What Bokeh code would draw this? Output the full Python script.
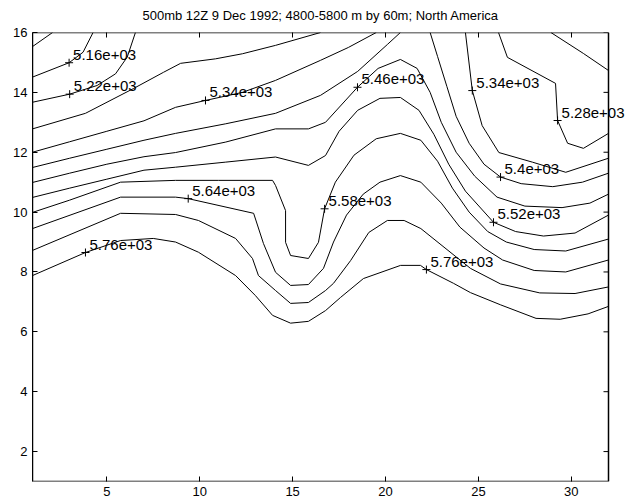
from bokeh.plotting import figure
from bokeh.models import (LinearAxis, FixedTicker, Range1d, ColumnDataSource,
                          CustomLabelingPolicy, LabelSet)
from bokeh.embed import file_html
from bokeh.resources import INLINE
from bokeh.core.properties import value

TITLE = "500mb 12Z 9 Dec 1992; 4800-5800 m by 60m; North America"
x_ticks = [5, 10, 15, 20, 25, 30]
y_ticks = [2, 4, 6, 8, 10, 12, 14, 16]
X_MIN, X_MAX = 1, 32
Y_MIN, Y_MAX = 1, 16

# traced contour lines (grid-column x, grid-row y), levels 5100..5760 m
c5100_x = [1, 2.08]
c5100_y = [15.53, 16.0]
c5160_x = [1, 2.97, 3.72, 4.26]
c5160_y = [14.51, 14.99, 15.34, 16.0]
c5220a_x = [1, 3.0, 4.48, 5.47, 6.1, 6.54]
c5220a_y = [13.67, 13.94, 14.23, 14.62, 15.18, 16.0]
c5220b_x = [28.9, 30.65, 32]
c5220b_y = [16.0, 15.3, 14.73]
c5280a_x = [1, 3.85, 6.44, 8.05, 8.97, 10.85, 12.3, 14.08, 16.5]
c5280a_y = [12.78, 13.3, 14.13, 14.67, 14.97, 15.12, 15.29, 15.57, 16.0]
c5280b_x = [26.08, 26.56, 29.15, 29.26, 29.8, 30.65, 32]
c5280b_y = [16.0, 15.17, 14.3, 13.06, 12.3, 12.13, 12.63]
c5340a_x = [1, 3, 5, 7, 8.7, 10.31, 12.3, 14.08, 16.5, 18.0, 19.5]
c5340a_y = [12.0, 12.35, 12.7, 13.05, 13.5, 13.73, 14.0, 14.4, 15.07, 15.5, 16.0]
c5340b_x = [24.3, 24.67, 25.2, 26.1, 27.9, 29.7, 32]
c5340b_y = [16.0, 14.06, 12.89, 11.99, 11.67, 11.33, 11.8]
c5400a_x = [1, 3, 5, 7, 8.7, 11.4, 14.08, 16.5, 18.5, 20.1, 20.8]
c5400a_y = [11.49, 11.8, 12.1, 12.4, 12.63, 12.95, 13.3, 13.9, 14.7, 15.6, 16.0]
c5400b_x = [22.4, 22.8, 23.3, 23.8, 24.5, 25.3, 26.19, 27.3, 29.0, 30.6, 32]
c5400b_y = [16.0, 15.2, 14.2, 13.2, 12.3, 11.6, 11.17, 10.95, 10.85, 11.0, 11.3]
c5460_x = [1, 3, 5, 7, 8.7, 11.4, 14.08, 15.85, 16.77, 18.49, 19.6, 20.8, 21.7, 22.4, 23.0,
           23.8, 24.8, 26.0, 27.5, 29.5, 31.0, 32]
c5460_y = [10.99, 11.3, 11.6, 11.85, 11.99, 12.34, 12.78, 12.78, 13.0, 14.17, 14.8, 15.1, 14.8,
           14.0, 13.0, 12.0, 11.2, 10.5, 10.2, 10.15, 10.3, 10.6]
c5520_x = [1, 3, 5, 7, 8.7, 11.4, 14.08, 15.85, 16.77, 17.5, 18.5, 19.7, 20.8, 21.8, 22.6,
           23.4, 24.3, 25.81, 27.0, 28.5, 30.2, 32]
c5520_y = [10.49, 10.8, 11.1, 11.4, 11.5, 11.67, 11.84, 11.56, 11.89, 12.7, 13.4, 13.8, 13.83,
           13.4, 12.6, 11.6, 10.7, 9.66, 9.35, 9.2, 9.3, 9.9]
c5580_x = [1, 3, 5.74, 8.7, 11, 13.92, 14.08, 14.62, 14.62, 14.89, 15.85, 16.39, 16.72, 17.3,
           18.3, 19.5, 20.8, 21.9, 22.8, 23.6, 24.5, 25.5, 26.5, 28.0, 29.7, 32]
c5580_y = [9.99, 10.4, 11.0, 11.06, 11.06, 11.06, 10.89, 10.05, 8.99, 8.55, 8.45, 8.99, 10.11,
           11.0, 11.9, 12.45, 12.63, 12.4, 11.7, 10.8, 10.0, 9.35, 9.0, 8.75, 8.7, 9.1]
c5640_x = [1, 5.74, 8.7, 9.38, 12.9, 13.43, 14.08, 14.89, 15.85, 16.66, 17.2, 17.9, 18.8,
           19.7, 20.8, 21.9, 23.0, 24.0, 25.3, 26.3, 28.0, 29.7, 32]
c5640_y = [9.45, 10.5, 10.5, 10.45, 9.96, 8.95, 7.99, 7.55, 7.58, 8.12, 9.0, 9.9, 10.6,
           11.0, 11.22, 11.0, 10.3, 9.5, 8.8, 8.4, 8.05, 8.0, 8.4]
c5700_x = [1, 5.74, 8.7, 9.93, 11.93, 12.84, 13.16, 14.08, 14.89, 15.85, 16.77, 17.2, 18.12,
           19.1, 20.1, 21.0, 21.9, 24.57, 26.19, 28.3, 30.2, 32]
c5700_y = [8.72, 9.96, 9.92, 9.72, 9.12, 8.45, 7.88, 7.38, 6.95, 6.98, 7.38, 7.62, 8.38,
           9.32, 9.72, 9.72, 9.45, 8.12, 7.6, 7.3, 7.28, 7.5]
c5760_x = [1, 3.85, 5.74, 7.5, 8.7, 9.93, 11.93, 13.0, 13.92, 14.89, 15.85, 16.77, 17.58,
           18.81, 20.81, 21.88, 22.2, 23.66, 24.57, 26.2, 28.1, 29.4, 30.9, 32]
c5760_y = [7.88, 8.65, 9.05, 9.12, 9.0, 8.66, 7.88, 7.21, 6.55, 6.29, 6.35, 6.71, 7.15,
           7.78, 8.22, 8.22, 8.08, 7.62, 7.31, 6.9, 6.45, 6.42, 6.6, 6.85]

# clabel positions
label_levels = [5160, 5220, 5340, 5640, 5760, 5460, 5580, 5340, 5280, 5400, 5520, 5760]
label_x = [2.97, 3.0, 10.31, 9.38, 3.85, 18.49, 16.72, 24.67, 29.26, 26.19, 25.81, 22.2]
label_y = [14.99, 13.94, 13.73, 10.45, 8.65, 14.17, 10.11, 14.06, 13.06, 11.17, 9.66, 8.08]

lines_x = [c5100_x, c5160_x, c5220a_x, c5220b_x, c5280a_x, c5280b_x, c5340a_x, c5340b_x,
           c5400a_x, c5400b_x, c5460_x, c5520_x, c5580_x, c5640_x, c5700_x, c5760_x]
lines_y = [c5100_y, c5160_y, c5220a_y, c5220b_y, c5280a_y, c5280b_y, c5340a_y, c5340b_y,
           c5400a_y, c5400b_y, c5460_y, c5520_y, c5580_y, c5640_y, c5700_y, c5760_y]

FONT = "Liberation Sans"

# the frame reaches the page edge so that the clabel text may run past the box's right side
BOX_W, LEFT, TOP, BOTTOM, PAGE_W, PAGE_H = 576, 32, 32, 23, 625, 504
TITLE_W = 356  # approximate rendered width of the 13px title, used to centre it over the box
frame_w = PAGE_W - LEFT
x_end = X_MIN + (X_MAX - X_MIN) * frame_w / BOX_W
px_per_x = BOX_W / (X_MAX - X_MIN)
TICK = 5

p = figure(width=PAGE_W, height=PAGE_H, x_range=Range1d(X_MIN, x_end), y_range=Range1d(Y_MIN, Y_MAX),
           output_backend="svg", toolbar_location=None, title=TITLE,
           min_border_left=LEFT, min_border_right=0, min_border_top=TOP, min_border_bottom=BOTTOM)
p.title.align = "left"
p.title.offset = (BOX_W - TITLE_W) / 2
p.title.text_font = FONT
p.title.text_font_style = "normal"
p.title.text_font_size = "13px"
p.title.text_color = "black"
p.title.standoff = 11

p.grid.visible = False
p.outline_line_color = None
p.background_fill_color = "white"
p.border_fill_color = "white"

for ax, ticks in ((p.xaxis[0], x_ticks), (p.yaxis[0], y_ticks)):
    ax.ticker = FixedTicker(ticks=ticks)
    ax.major_tick_in = TICK
    ax.major_tick_out = 0
    ax.minor_tick_in = 0
    ax.minor_tick_out = 0
    ax.major_label_text_font = FONT
    ax.major_label_text_font_size = "13px"
    ax.major_label_text_color = "black"
    ax.major_tick_line_color = "black"
    ax.major_label_standoff = 5
p.xaxis.axis_line_color = None
p.yaxis.axis_line_color = "black"

no_labels = CustomLabelingPolicy(code="""
    for (const i of indices)
        indices.unset(i)
    return indices
""")
top_ax = LinearAxis(ticker=FixedTicker(ticks=x_ticks), major_tick_in=TICK, major_tick_out=0,
                    minor_tick_in=0, minor_tick_out=0, major_label_text_font_size="1px",
                    major_label_standoff=0, axis_line_color=None, major_label_policy=no_labels)
p.add_layout(top_ax, "above")

# axes box and the right-hand ticks
p.quad(left=[X_MIN], right=[X_MAX], bottom=[Y_MIN], top=[Y_MAX], fill_color=None,
       line_color="black", line_width=1.5)
p.segment(x0=[X_MAX - TICK / px_per_x] * len(y_ticks), x1=[X_MAX] * len(y_ticks),
          y0=y_ticks, y1=y_ticks, line_color="black", line_width=1)

p.multi_line(xs=lines_x, ys=lines_y, line_color="black", line_width=1)

lab_src = ColumnDataSource(dict(x=label_x, y=label_y,
                                t=[f"{v:.3g}" for v in label_levels]))
p.scatter(x="x", y="y", source=lab_src, marker="cross", size=8, line_color="black", line_width=1)
labels = LabelSet(x="x", y="y", text="t", source=lab_src, text_font=value(FONT),
                  text_font_size=value("15px"), text_color=value("black"),
                  text_baseline="middle", text_align="left", x_offset=4, y_offset=8)
p.add_layout(labels)

open("out.html", "w").write(file_html(p, INLINE))
